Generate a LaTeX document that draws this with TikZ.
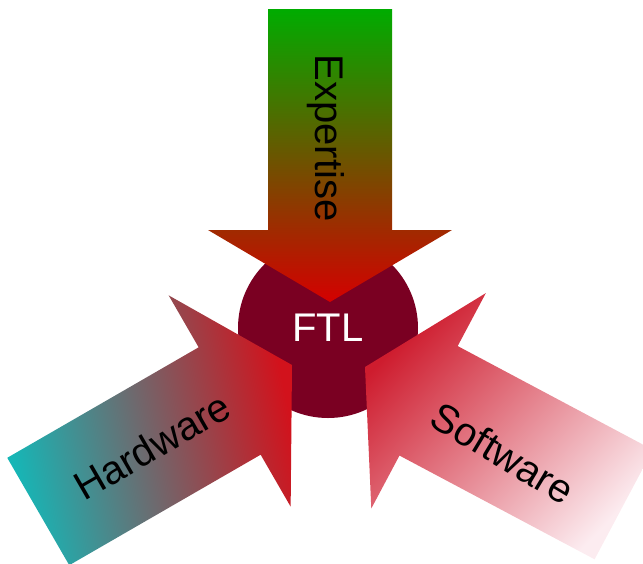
\documentclass[tikz,border=0pt]{standalone}
\usepackage{fontspec}
\setmainfont{Liberation Sans}

\definecolor{expgreen}{RGB}{0,172,0}
\definecolor{expred}{RGB}{212,0,0}
\definecolor{hwteal}{RGB}{22,182,182}
\definecolor{hwred}{RGB}{210,18,28}
\definecolor{swpink}{RGB}{252,236,240}
\definecolor{swred}{RGB}{206,28,46}
\definecolor{ftlred}{RGB}{122,0,34}

\tikzset{
    bigarrow/.pic={
        % tip at the origin, pointing along +x
        \path[pic actions] (0,0) -- (-72,122) -- (-72,62) -- (-293,62)
            -- (-293,-62) -- (-72,-62) -- (-72,-122) -- cycle;
    },
    arrowtext/.style={
           font=\fontsize{40}{48}\selectfont,
           inner sep=0pt,
           text=black
           },
    core/.style={
           circle,
           fill=ftlred,
           minimum size=180pt,
           inner sep=0pt,
           text=white,
           font=\fontsize{40}{48}\selectfont
           },
}

\begin{document}
\begin{tikzpicture}[x=1pt,y=-1pt]
    \useasboundingbox (0,0) rectangle (643,563);
    \clip (0,0) rectangle (643,563);

    \node[core] (ftl) at (328,328) {FTL};

    % the three inputs
    \pic[top color=expgreen, bottom color=expred, rotate=-90] (expertise arrow) at (330,302) {bigarrow};
    \pic[top color=hwred, bottom color=hwteal, shading angle=-78, rotate=30] (hardware arrow) at (292,365) {bigarrow};
    \pic[top color=swred, bottom color=swpink, shading angle=46, rotate=152] (software arrow) at (365,367) {bigarrow};

    \node[arrowtext, rotate=-90] (expertise) at (326,138) {Expertise};
    \node[arrowtext, rotate=30] (hardware) at (152,446) {Hardware};
    \node[arrowtext, rotate=-31] (software) at (503,453) {Software};

\end{tikzpicture}
\end{document}
